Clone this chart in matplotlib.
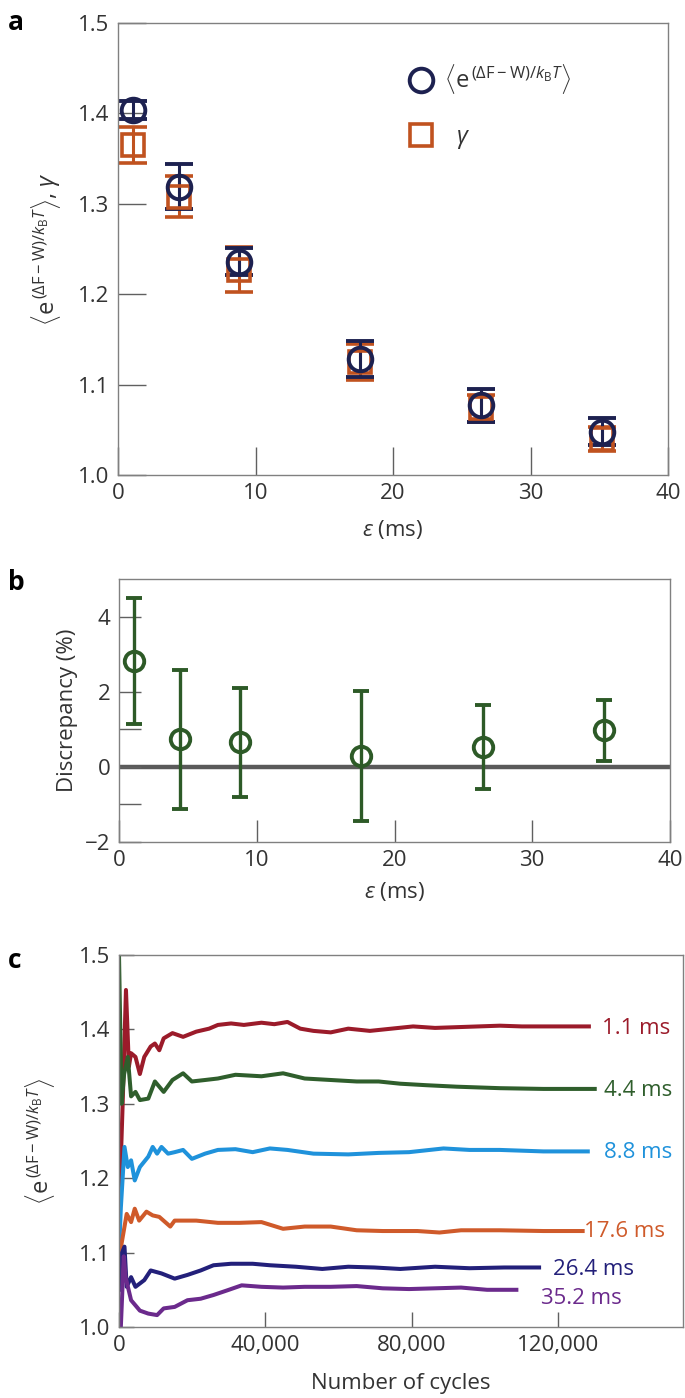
import numpy as np
import matplotlib
matplotlib.use('Agg')
from matplotlib import pyplot as plt
from matplotlib.lines import Line2D
from matplotlib.ticker import FuncFormatter

plt.rcParams['font.family'] = ['Open Sans', 'DejaVu Sans']
plt.rcParams['mathtext.fontset'] = 'custom'
plt.rcParams['mathtext.rm'] = 'Open Sans'
plt.rcParams['mathtext.it'] = 'Open Sans:italic'
plt.rcParams['mathtext.bf'] = 'Open Sans:bold'

# ---- data ----
eps_ms = [1.1, 4.4, 8.8, 17.6, 26.4, 35.2]

jar_mean = [1.404, 1.319, 1.236, 1.128, 1.077, 1.048]
jar_err = [0.010, 0.025, 0.015, 0.020, 0.018, 0.015]
gamma_mean = [1.365, 1.308, 1.227, 1.125, 1.074, 1.040]
gamma_err = [0.020, 0.023, 0.025, 0.020, 0.015, 0.013]

disc_mean = [2.81, 0.74, 0.66, 0.28, 0.52, 0.97]
disc_err = [1.68, 1.85, 1.45, 1.73, 1.12, 0.82]

cyc_11 = [0, 1000, 1900, 2700, 3300, 4500, 5700, 6900, 8650, 9800, 11000, 12200,
          14600, 17500, 21100, 24600, 27000, 30600, 34100, 38900, 42400, 46000,
          49500, 53100, 57800, 62600, 68500, 74400, 80300, 86300, 92200, 98100,
          104000, 110000, 115900, 121800, 128300]
val_11 = [1.15, 1.30, 1.453, 1.35, 1.368, 1.363, 1.34, 1.363, 1.377, 1.381, 1.372, 1.388,
          1.395, 1.39, 1.397, 1.401, 1.406, 1.408, 1.406, 1.409, 1.407, 1.41,
          1.401, 1.398, 1.396, 1.401, 1.398, 1.401, 1.404, 1.402, 1.403, 1.404,
          1.405, 1.404, 1.404, 1.404, 1.404]

cyc_44 = [0, 700, 1400, 2400, 3300, 4500, 5700, 8000, 9800, 12200, 14600, 17500,
          19900, 23500, 27000, 31800, 38900, 44800, 50700, 57800, 64900, 70900,
          76800, 83900, 92200, 104000, 115900, 129900]
val_44 = [1.5, 1.30, 1.34, 1.363, 1.31, 1.316, 1.305, 1.307, 1.33, 1.316, 1.332, 1.341,
          1.33, 1.332, 1.334, 1.339, 1.337, 1.341, 1.334, 1.332, 1.33, 1.33,
          1.327, 1.325, 1.323, 1.321, 1.32, 1.32]

cyc_88 = [0, 500, 1500, 2400, 3300, 4300, 5700, 8000, 9200, 10400, 11600, 13400,
          15200, 17500, 19900, 23500, 27000, 31800, 36500, 41200, 46000, 53100,
          62600, 70900, 79200, 88600, 95700, 104000, 115900, 128000]
val_88 = [1.10, 1.16, 1.242, 1.215, 1.224, 1.197, 1.215, 1.229, 1.242, 1.233, 1.242, 1.233,
          1.235, 1.238, 1.226, 1.233, 1.238, 1.239, 1.235, 1.24, 1.238, 1.233,
          1.232, 1.234, 1.235, 1.24, 1.238, 1.238, 1.236, 1.236]

cyc_176 = [0, 700, 2100, 3300, 4300, 5500, 7500, 9200, 11000, 14000, 15200, 21100,
           27000, 32900, 38900, 44800, 50700, 57800, 64900, 72000, 81500, 87500,
           93400, 104000, 115900, 126600]
val_176 = [1.06, 1.112, 1.152, 1.141, 1.159, 1.143, 1.155, 1.15, 1.148, 1.135, 1.143, 1.143,
           1.14, 1.14, 1.141, 1.132, 1.135, 1.135, 1.13, 1.129, 1.129, 1.127,
           1.13, 1.13, 1.129, 1.129]

cyc_264 = [0, 350, 1500, 2100, 3300, 4500, 6900, 8650, 11600, 15200, 18700, 22300,
           25800, 30600, 36500, 41200, 48300, 55500, 62600, 69700, 76800, 86300,
           95700, 105200, 114700]
val_264 = [1.05, 1.094, 1.108, 1.054, 1.067, 1.054, 1.063, 1.076, 1.072, 1.065, 1.07, 1.076,
           1.083, 1.085, 1.085, 1.083, 1.081, 1.078, 1.081, 1.08, 1.078, 1.081,
           1.079, 1.08, 1.08]

cyc_352 = [0, 500, 1300, 1800, 3300, 5700, 8000, 10400, 12200, 15200, 18700, 22300,
           25800, 29400, 33500, 38900, 44800, 50700, 57800, 64900, 72000, 79200,
           86300, 93400, 100500, 108500]
val_352 = [0.99, 1.0, 1.095, 1.067, 1.036, 1.022, 1.018, 1.016, 1.025, 1.027, 1.036, 1.038,
           1.043, 1.049, 1.056, 1.054, 1.053, 1.054, 1.054, 1.055, 1.052, 1.051,
           1.052, 1.053, 1.05, 1.05]

series_labels = ['1.1 ms', '4.4 ms', '8.8 ms', '17.6 ms', '26.4 ms', '35.2 ms']

# ---- styles ----
navy = '#1d2150'
rust = '#c0521f'
dgreen = '#2d5a27'
line_colors = ['#9b1b2a', '#2f5e2c', '#1f92db', '#cf5a2a', '#23207a', '#6b2a8c']
label_pos = [(131900, 1.401), (132500, 1.318), (132500, 1.235),
             (127100, 1.129), (118500, 1.077), (115100, 1.038)]
spine_c = '#808080'
txt_c = '#333333'
fs = 16

plt.rcParams['text.color'] = txt_c
plt.rcParams['axes.labelcolor'] = txt_c
plt.rcParams['xtick.color'] = '#606060'
plt.rcParams['ytick.color'] = '#606060'
plt.rcParams['xtick.labelcolor'] = txt_c
plt.rcParams['ytick.labelcolor'] = txt_c

fig = plt.figure(figsize=(6.85, 13.98), dpi=100)
ax_a = fig.add_axes([118 / 685, 1 - 475 / 1398, 550 / 685, 452 / 1398])
ax_b = fig.add_axes([119 / 685, 1 - 842 / 1398, 551 / 685, 263 / 1398])
ax_c = fig.add_axes([119 / 685, 1 - 1327 / 1398, 564 / 685, 372 / 1398])


def style(ax, tlen):
    for s in ax.spines.values():
        s.set_color(spine_c)
        s.set_linewidth(1.0)
    ax.tick_params(direction='in', length=tlen, width=1, labelsize=fs, pad=6,
                   top=False, right=False)
    ax.tick_params(which='minor', direction='in', length=tlen, width=1)


jar_label = r'$\langle \mathrm{e}^{\,(\Delta\mathrm{F}-\mathrm{W})/k_{\mathrm{B}}T}\rangle$'

# Panel a
ax_a.errorbar(eps_ms, gamma_mean, yerr=gamma_err, fmt='s', ms=16, mfc='none',
              mec=rust, mew=2.6, ecolor=rust, elinewidth=2.2, capsize=10, capthick=2.6)
ax_a.errorbar(eps_ms, jar_mean, yerr=jar_err, fmt='o', ms=17, mfc='none',
              mec=navy, mew=2.8, ecolor=navy, elinewidth=2.2, capsize=10, capthick=2.8)
ax_a.set_xlim(0, 40)
ax_a.set_ylim(1.0, 1.5)
ax_a.set_xticks([0, 10, 20, 30, 40])
ax_a.set_yticks([1.0, 1.1, 1.2, 1.3, 1.4, 1.5])
style(ax_a, 20)
ax_a.set_xlabel(r'$\varepsilon$ (ms)', fontsize=fs, labelpad=10)
ax_a.set_ylabel(jar_label + r', $\gamma$', fontsize=fs + 1)
ax_a.yaxis.set_label_coords(-0.10, 0.5)
handles = [Line2D([], [], ls='none', marker='o', ms=17, mfc='none', mec=navy, mew=2.8),
           Line2D([], [], ls='none', marker='s', ms=16, mfc='none', mec=rust, mew=2.6)]
ax_a.legend(handles, [jar_label, r'  $\gamma$'],
            loc='center left', bbox_to_anchor=(0.49, 0.815), frameon=False,
            fontsize=fs + 1, handlelength=1.0, handletextpad=0.5, labelspacing=1.2)

# Panel b
ax_b.axhline(0, color='#5a5a5a', lw=3.2, zorder=1)
ax_b.errorbar(eps_ms, disc_mean, yerr=disc_err, fmt='o', ms=14, mfc='none',
              mec=dgreen, mew=2.8, ecolor=dgreen, elinewidth=2.4, capsize=6, capthick=2.8,
              zorder=3)
ax_b.set_xlim(0, 40)
ax_b.set_ylim(-2, 5)
ax_b.set_xticks([0, 10, 20, 30, 40])
ax_b.set_yticks([-2, 0, 2, 4])
ax_b.set_yticks([-1, 1], minor=True)
style(ax_b, 16)
ax_b.set_xlabel(r'$\varepsilon$ (ms)', fontsize=fs, labelpad=6)
ax_b.set_ylabel('Discrepancy (%)', fontsize=fs)
ax_b.yaxis.set_label_coords(-0.075, 0.5)

# Panel c
cycles = [cyc_11, cyc_44, cyc_88, cyc_176, cyc_264, cyc_352]
values = [val_11, val_44, val_88, val_176, val_264, val_352]
for cx, vy, col, lab, pos in zip(cycles, values, line_colors, series_labels, label_pos):
    ax_c.plot(cx, vy, color=col, lw=2.9, solid_joinstyle='round')
    ax_c.text(pos[0], pos[1], lab, color=col, fontsize=fs, ha='left', va='center')
ax_c.set_xlim(0, 154000)
ax_c.set_ylim(1.0, 1.5)
ax_c.set_xticks([0, 40000, 80000, 120000])
ax_c.xaxis.set_major_formatter(FuncFormatter(lambda v, p: '{:,.0f}'.format(v)))
ax_c.set_yticks([1.0, 1.1, 1.2, 1.3, 1.4, 1.5])
style(ax_c, 11)
ax_c.set_xlabel('Number of cycles', fontsize=fs, labelpad=12)
ax_c.set_ylabel(jar_label, fontsize=fs + 1)
ax_c.yaxis.set_label_coords(-0.11, 0.5)

for lab, yy in [('a', 22), ('b', 582), ('c', 960)]:
    fig.text(8 / 685, 1 - yy / 1398, lab, fontsize=19, fontweight='bold', color='black',
             ha='left', va='center')

fig.savefig('out.png', dpi=100)
